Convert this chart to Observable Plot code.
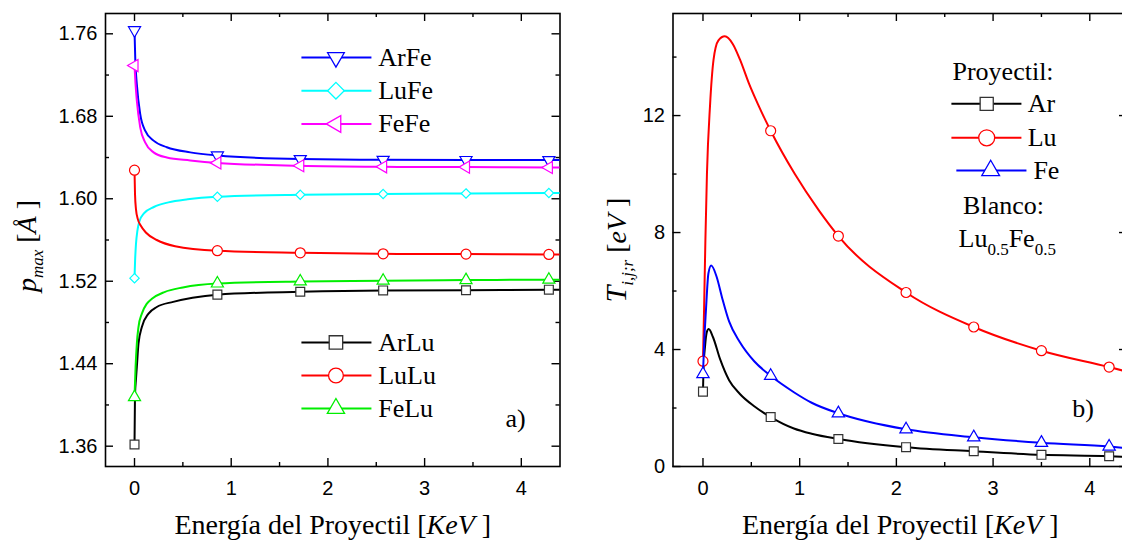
<!DOCTYPE html>
<html><head><meta charset="utf-8">
<script src="https://cdn.jsdelivr.net/npm/d3@7"></script>
<script src="https://cdn.jsdelivr.net/npm/@observablehq/plot@0.6"></script>
<style>
html,body{margin:0;padding:0;background:#fff;overflow:hidden}
#wrap{position:relative;width:1122px;height:542px;overflow:hidden;background:#fff}
#wrap svg{position:absolute;top:0}
</style></head><body><div id="wrap"></div>
<script>
// ---------- Panel a) data ----------
const energyA = [0, 0.857, 1.714, 2.571, 3.428, 4.285];
const ArFe = [1.7635, 1.642, 1.6385, 1.6378, 1.6376, 1.6375];
const LuFe = [1.523, 1.6019, 1.6039, 1.6046, 1.6052, 1.6056];
const FeFe = [1.7292, 1.6348, 1.6320, 1.6310, 1.6307, 1.6303];
const ArLu = [1.3616, 1.507, 1.5098, 1.5111, 1.5113, 1.5118];
const LuLu = [1.6277, 1.5496, 1.5476, 1.5466, 1.5463, 1.5460];
const FeLu = [1.4076, 1.5178, 1.5198, 1.5205, 1.5211, 1.5215];

const curveArFe = [[0,1.7635],[0.008,1.735],[0.024,1.711],[0.059,1.682],[0.11,1.666],[0.197,1.6564],[0.334,1.650],[0.576,1.645],[0.857,1.642],[1.714,1.6385],[2.571,1.6378],[3.428,1.6376],[4.285,1.6375],[4.40,1.6375]];
const curveFeFe = [[0,1.7292],[0.01,1.712],[0.024,1.6952],[0.059,1.6693],[0.11,1.6547],[0.197,1.645],[0.334,1.640],[0.576,1.6372],[0.857,1.6348],[1.714,1.6320],[2.571,1.6310],[3.428,1.6307],[4.285,1.6303],[4.40,1.6303]];
const curveLuFe = [[0,1.523],[0.006,1.54],[0.015,1.556],[0.03,1.569],[0.05,1.578],[0.1,1.586],[0.2,1.592],[0.35,1.5965],[0.55,1.5995],[0.857,1.6019],[1.714,1.6039],[2.571,1.6046],[3.428,1.6052],[4.285,1.6056],[4.40,1.6057]];
const curveLuLu = [[0,1.6277],[0.005,1.605],[0.015,1.59],[0.035,1.58],[0.064,1.574],[0.12,1.567],[0.23,1.560],[0.42,1.554],[0.857,1.5496],[1.714,1.5476],[2.571,1.5466],[3.428,1.5463],[4.285,1.5460],[4.40,1.5460]];
const curveFeLu = [[0,1.4076],[0.011,1.4368],[0.024,1.4594],[0.041,1.4756],[0.076,1.4886],[0.128,1.4983],[0.18,1.503],[0.31,1.5095],[0.5,1.514],[0.857,1.5178],[1.714,1.5198],[2.571,1.5205],[3.428,1.5211],[4.285,1.5215],[4.40,1.5215]];
const curveArLu = [[0,1.3616],[0.005,1.41],[0.015,1.425],[0.024,1.4368],[0.041,1.4594],[0.076,1.4756],[0.145,1.4886],[0.23,1.495],[0.4,1.50],[0.6,1.504],[0.857,1.507],[1.714,1.5098],[2.571,1.5111],[3.428,1.5113],[4.285,1.5118],[4.40,1.5118]];

const yTicksA = [1.36, 1.44, 1.52, 1.60, 1.68, 1.76];
const yMinorA = [1.40, 1.48, 1.56, 1.64, 1.72];
const xTicks = [0, 1, 2, 3, 4];
const xMinor = [0.5, 1.5, 2.5, 3.5];

// ---------- Panel b) data ----------
const energyB = [0, 0.7, 1.4, 2.1, 2.8, 3.5, 4.2];
const Ar = [2.56, 1.69, 0.94, 0.66, 0.52, 0.40, 0.35];
const Lu = [3.60, 11.48, 7.88, 5.95, 4.77, 3.96, 3.40];
const Fe = [3.16, 3.10, 1.82, 1.27, 1.00, 0.81, 0.68];

const curveLu = [[0,3.6],[0.012,5.5],[0.025,7.75],[0.041,10.0],[0.073,12.35],[0.109,13.9],[0.16,14.57],[0.226,14.71],[0.308,14.45],[0.382,13.92],[0.475,13.1],[0.568,12.39],[0.7,11.48],[0.95,10.0],[1.2,8.75],[1.4,7.88],[2.1,5.95],[2.8,4.77],[3.5,3.96],[4.2,3.40],[4.39,3.24]];
const curveFe = [[0,3.16],[0.012,4.2],[0.03,5.3],[0.056,6.6],[0.085,6.87],[0.141,6.49],[0.197,5.78],[0.27,4.96],[0.382,4.25],[0.53,3.6],[0.7,3.10],[0.94,2.54],[1.124,2.18],[1.4,1.82],[2.1,1.27],[2.8,1.0],[3.5,0.81],[4.2,0.68],[4.39,0.63]];
const curveAr = [[0,2.56],[0.005,3.3],[0.022,4.13],[0.04,4.6],[0.059,4.70],[0.104,4.42],[0.178,3.66],[0.27,2.95],[0.382,2.48],[0.53,2.06],[0.7,1.69],[0.94,1.30],[1.124,1.12],[1.4,0.94],[2.1,0.66],[2.8,0.52],[3.5,0.40],[4.2,0.35],[4.39,0.32]];

const yTicksB = [0, 4, 8, 12];
const yMinorB = [2, 6, 10, 14];

const legendTopA = ["ArFe", "LuFe", "FeFe"];
const legendBotA = ["ArLu", "LuLu", "FeLu"];
const legendB = ["Ar", "Lu", "Fe"];

// ---------- styles ----------
const SERIF = "Liberation Serif";
const SANS = "Liberation Sans";
const styleA = {
  ArFe: {stroke: "#0000ff", symbol: "triangle", rotate: 180, r: 4.5, lr: 6.2},
  LuFe: {stroke: "#00ffff", symbol: "diamond2", rotate: 0, r: 4.2, lr: 7.5},
  FeFe: {stroke: "#ff00ff", symbol: "triangle", rotate: -90, r: 4.5, lr: 6.2},
  ArLu: {stroke: "#000000", symbol: "square", rotate: 0, r: 5, lr: 7.6, mstroke: "#333"},
  LuLu: {stroke: "#ff0000", symbol: "circle", rotate: 0, r: 5, lr: 7.4},
  FeLu: {stroke: "#00ee00", symbol: "triangle", rotate: 0, r: 4.5, lr: 6.4}
};
const styleB = {
  Ar: {stroke: "#000000", symbol: "square", rotate: 0, r: 5, lr: 7.4, mstroke: "#333"},
  Lu: {stroke: "#ff0000", symbol: "circle", rotate: 0, r: 5, lr: 8},
  Fe: {stroke: "#0000ff", symbol: "triangle", rotate: 0, r: 4.6, lr: 6.6}
};

function tickMarks(xMaj, xMin, yMaj, yMin, fw, fh) {
  const s = {stroke: "black", strokeWidth: 1.4};
  return [
    Plot.ruleX(xMaj, {x: d => d, insetTop: fh - 8, ...s}),
    Plot.ruleX(xMaj, {x: d => d, insetBottom: fh - 8, ...s}),
    Plot.ruleX(xMin, {x: d => d, insetTop: fh - 4, ...s}),
    Plot.ruleX(xMin, {x: d => d, insetBottom: fh - 4, ...s}),
    Plot.ruleY(yMaj, {y: d => d, insetRight: fw - 8, ...s}),
    Plot.ruleY(yMaj, {y: d => d, insetLeft: fw - 8, ...s}),
    Plot.ruleY(yMin, {y: d => d, insetRight: fw - 4, ...s}),
    Plot.ruleY(yMin, {y: d => d, insetLeft: fw - 4, ...s})
  ];
}

function seriesMarks(curve, xs, ys, st) {
  return [
    Plot.line(curve, {x: d => d[0], y: d => d[1], stroke: st.stroke, strokeWidth: 2, curve: "monotone-x", clip: true}),
    Plot.dot(ys, {x: xs, y: d => d, symbol: st.symbol, rotate: st.rotate, r: st.r, stroke: st.mstroke || st.stroke, strokeWidth: 1.2, fill: "white"})
  ];
}

function legendEntry(name, st, x1, x2, xm, xt, y) {
  return [
    Plot.link([name], {x1: () => x1, x2: () => x2, y1: () => y, y2: () => y, stroke: st.stroke, strokeWidth: 2}),
    Plot.dot([name], {x: () => xm, y: () => y, symbol: st.symbol, rotate: st.rotate, r: st.lr, stroke: st.mstroke || st.stroke, strokeWidth: 1.3, fill: "white"}),
    Plot.text([name], {x: () => xt, y: () => y, text: d => d, textAnchor: "start", lineAnchor: "middle", fontFamily: SERIF, fontSize: 26, fill: "black"})
  ];
}

const xTitle = "Energía del Proyectil [KeV ]";
const yTitleA = "p_max [Å ]";
const yTitleB = "T_ijr [eV ]";
const blancoText = "Lu0.5Fe0.5";

// ---------- Panel a ----------
const HA = 542, WA = 561, mLA = 105, mRA = 1.5, mT = 13, mB = 76;
const fwA = WA - mLA - mRA, fh = HA - mT - mB;
const seriesA = [
  ["ArFe", curveArFe, ArFe], ["LuFe", curveLuFe, LuFe], ["FeFe", curveFeFe, FeFe],
  ["ArLu", curveArLu, ArLu], ["LuLu", curveLuLu, LuLu], ["FeLu", curveFeLu, FeLu]
];
const marksA = [
  Plot.frame({stroke: "black", strokeWidth: 1.6}),
  ...tickMarks(xTicks, xMinor, yTicksA, yMinorA, fwA, fh),
  Plot.axisX(xTicks, {anchor: "bottom", tickSize: 0, tickPadding: 14, label: null, fontSize: 20}),
  Plot.axisY(yTicksA, {anchor: "left", tickSize: 0, tickPadding: 8, label: null, tickFormat: d3.format(".2f"), fontSize: 20}),
  ...seriesA.flatMap(([n, c, v]) => seriesMarks(c, energyA, v, styleA[n])),
  ...legendTopA.flatMap((n, i) => legendEntry(n, styleA[n], 1.726, 2.45, 2.083, 2.52, 1.737 - i * 0.0322)),
  ...legendBotA.flatMap((n, i) => legendEntry(n, styleA[n], 1.726, 2.45, 2.083, 2.52, 1.4606 - i * 0.0320)),
  Plot.text(["a)"], {x: () => 3.94, y: () => 1.387, text: d => d, textAnchor: "middle", lineAnchor: "middle", fontFamily: SERIF, fontSize: 26}),
  Plot.text([xTitle], {frameAnchor: "bottom", dy: 67, lineAnchor: "bottom", textAnchor: "middle", text: d => d, fontFamily: SERIF, fontSize: 28}),
  Plot.text([yTitleA], {frameAnchor: "left", rotate: -90, dx: -70, dy: 6, lineAnchor: "bottom", textAnchor: "middle", text: d => d, fontFamily: SERIF, fontSize: 28})
];
const plotA = Plot.plot({
  width: WA, height: HA, marginLeft: mLA, marginRight: mRA, marginTop: mT, marginBottom: mB,
  x: {domain: [-0.30, 4.40]},
  y: {domain: [1.3403, 1.7797]},
  style: {fontFamily: SANS, fontSize: "20px", background: "white", color: "black"},
  marks: marksA
});

// ---------- Panel b ----------
const WB = 566, mLB = 111.5, mRB = 0;
const fwB = WB - mLB - mRB;
const seriesB = [["Ar", curveAr, Ar], ["Lu", curveLu, Lu], ["Fe", curveFe, Fe]];
const legXB = [[2.569, 3.293, 2.934, 3.358], [2.569, 3.293, 2.934, 3.358], [2.62, 3.345, 2.975, 3.417]];
const legYB = [12.40, 11.24, 10.12];
const marksB = [
  Plot.frame({stroke: "black", strokeWidth: 1.6}),
  ...tickMarks(xTicks, xMinor, yTicksB, yMinorB, fwB, fh),
  Plot.axisX(xTicks, {anchor: "bottom", tickSize: 0, tickPadding: 14, label: null, fontSize: 20}),
  Plot.axisY(yTicksB, {anchor: "left", tickSize: 0, tickPadding: 8, label: null, fontSize: 20}),
  ...seriesB.flatMap(([n, c, v]) => seriesMarks(c, energyB, v, styleB[n])),
  Plot.text(["Proyectil:"], {x: () => 3.103, y: () => 13.51, text: d => d, textAnchor: "middle", lineAnchor: "middle", fontFamily: SERIF, fontSize: 26}),
  ...legendB.flatMap((n, i) => legendEntry(n, styleB[n], legXB[i][0], legXB[i][1], legXB[i][2], legXB[i][3], legYB[i])),
  Plot.text(["Blanco:"], {x: () => 3.108, y: () => 8.92, text: d => d, textAnchor: "middle", lineAnchor: "middle", fontFamily: SERIF, fontSize: 26}),
  Plot.text([blancoText], {x: () => 3.146, y: () => 7.795, text: d => d, textAnchor: "middle", lineAnchor: "middle", fontFamily: SERIF, fontSize: 26}),
  Plot.text(["b)"], {x: () => 3.93, y: () => 1.98, text: d => d, textAnchor: "middle", lineAnchor: "middle", fontFamily: SERIF, fontSize: 26}),
  Plot.text([xTitle], {frameAnchor: "bottom", dy: 67, lineAnchor: "bottom", textAnchor: "middle", text: d => d, fontFamily: SERIF, fontSize: 28}),
  Plot.text([yTitleB], {frameAnchor: "left", rotate: -90, dx: -47, dy: 10, lineAnchor: "bottom", textAnchor: "middle", text: d => d, fontFamily: SERIF, fontSize: 28})
];
const plotB = Plot.plot({
  width: WB, height: HA, marginLeft: mLB, marginRight: mRB, marginTop: mT, marginBottom: mB,
  x: {domain: [-0.31, 4.39]},
  y: {domain: [0, 15.49]},
  style: {fontFamily: SANS, fontSize: "20px", background: "white", color: "black"},
  marks: marksB
});

// ---------- rich text (italics / subscripts) ----------
function rich(svg, placeholder, parts) {
  d3.select(svg).selectAll("text").filter(function () { return this.textContent === placeholder; }).each(function () {
    const t = d3.select(this);
    t.text(null);
    let shift = 0;
    for (const p of parts) {
      const s = t.append("tspan").text(p.t);
      if (p.i) s.attr("font-style", "italic");
      if (p.size) s.attr("font-size", p.size);
      const target = p.sub || 0;
      if (target !== shift) { s.attr("dy", target - shift); shift = target; }
    }
  });
}
const xParts = [{t: "Energía del Proyectil ["}, {t: "KeV", i: 1}, {t: " ]"}];
rich(plotA, xTitle, xParts);
rich(plotB, xTitle, xParts);
rich(plotA, yTitleA, [{t: "p", i: 1}, {t: "max", i: 1, size: 17, sub: 7}, {t: " ["}, {t: "Å", i: 1}, {t: " ]"}]);
rich(plotB, yTitleB, [{t: "T", i: 1, size: 30}, {t: "i,j;r", i: 1, size: 17, sub: 7}, {t: " ["}, {t: "eV", i: 1}, {t: " ]"}]);
rich(plotB, blancoText, [{t: "Lu"}, {t: "0.5", size: 17, sub: 8}, {t: "Fe"}, {t: "0.5", size: 17, sub: 8}]);

plotA.style.left = "0px";
plotB.style.left = "561px";
plotA.style.maxWidth = "none";
plotB.style.maxWidth = "none";
document.getElementById("wrap").append(plotA, plotB);
</script>
</body></html>
